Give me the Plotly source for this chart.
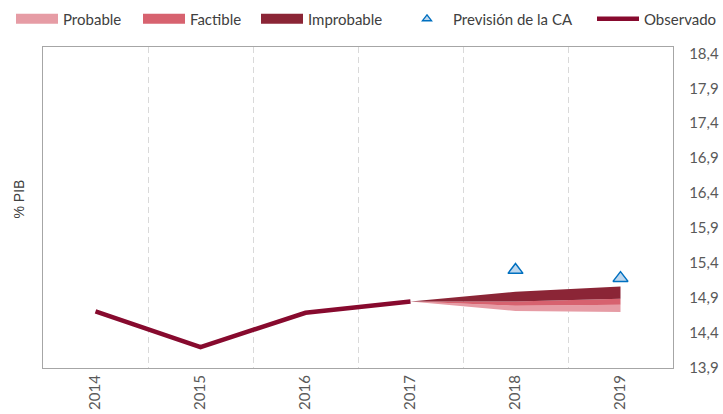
import plotly.graph_objects as go

# ---- data ----
years = [2014, 2015, 2016, 2017, 2018, 2019]
year_labels = ["2014", "2015", "2016", "2017", "2018", "2019"]
observado = [14.71, 14.20, 14.69, 14.85, None, None]

fan_years = [2017, 2018, 2019]
fan_bottom = [14.85, 14.715, 14.70]
probable_top = [14.85, 14.79, 14.805]
factible_top = [14.85, 14.85, 14.89]
improbable_top = [14.85, 14.99, 15.065]

prevision_years = [2018, 2019]
prevision_ca = [15.30, 15.185]

y_tickvals = [13.9, 14.4, 14.9, 15.4, 15.9, 16.4, 16.9, 17.4, 17.9, 18.4]
y_ticktext = ["13,9", "14,4", "14,9", "15,4", "15,9", "16,4", "16,9", "17,4", "17,9", "18,4"]

# ---- styles ----
C_PROB = "#E69CA5"
C_FACT = "#D7626F"
C_IMPR = "#8B2536"
C_OBS = "#870A2E"
FONT = "Lato"
W, H = 723, 414

fig = go.Figure()

fig.add_trace(go.Scatter(x=fan_years, y=fan_bottom, mode="lines",
                         line=dict(width=0, color=C_PROB), showlegend=False,
                         hoverinfo="skip"))
fig.add_trace(go.Scatter(x=fan_years, y=probable_top, mode="lines", name="Probable",
                         line=dict(width=0, color=C_PROB), fill="tonexty",
                         fillcolor=C_PROB, showlegend=False))
fig.add_trace(go.Scatter(x=fan_years, y=factible_top, mode="lines", name="Factible",
                         line=dict(width=0, color=C_FACT), fill="tonexty",
                         fillcolor=C_FACT, showlegend=False))
fig.add_trace(go.Scatter(x=fan_years, y=improbable_top, mode="lines", name="Improbable",
                         line=dict(width=0, color=C_IMPR), fill="tonexty",
                         fillcolor=C_IMPR, showlegend=False))
fig.add_trace(go.Scatter(x=prevision_years, y=prevision_ca, mode="markers",
                         name="Previsión de la CA", showlegend=False,
                         marker=dict(symbol="triangle-up", size=13, color="#BDD7EE",
                                     line=dict(color="#0070C0", width=1.5))))
fig.add_trace(go.Scatter(x=years, y=observado, mode="lines", name="Observado",
                         legend="legend5", line=dict(width=4.5, color=C_OBS)))

# legend keys
for nm, col, lg in [("Probable", C_PROB, "legend"), ("Factible", C_FACT, "legend2"),
                    ("Improbable", C_IMPR, "legend3")]:
    fig.add_trace(go.Scatter(x=[None], y=[None], mode="lines", name=nm, legend=lg,
                             line=dict(width=12, color=col), hoverinfo="skip"))
fig.add_trace(go.Scatter(x=[None], y=[None], mode="markers", name="Previsión de la CA",
                         legend="legend4", hoverinfo="skip",
                         marker=dict(symbol="triangle-up", size=8, color="#BDD7EE",
                                     line=dict(color="#0070C0", width=1.3))))


def leg(text_x):
    return dict(orientation="h", xref="container", yref="container",
                x=(text_x - 53) / W, y=1 - 19 / H, xanchor="left", yanchor="middle",
                font=dict(family=FONT, size=15, color="#404040"),
                bgcolor="rgba(0,0,0,0)", itemwidth=42, traceorder="normal")


fig.update_layout(
    width=W, height=H,
    margin=dict(l=43, r=50, t=47, b=46, autoexpand=False),
    paper_bgcolor="white", plot_bgcolor="white",
    font=dict(family=FONT, size=15, color="#595959"),
    showlegend=True,
    legend=leg(64), legend2=leg(191), legend3=leg(309),
    legend4=leg(454), legend5=leg(645),
    xaxis=dict(range=[2013.5, 2019.5], tickvals=years, ticktext=year_labels,
               tickangle=-90, showgrid=False, zeroline=False,
               showline=True, mirror=True, linecolor="#A6A6A6", linewidth=1.3,
               ticks="", tickfont=dict(family=FONT, size=15, color="#595959")),
    yaxis=dict(range=[13.9, 18.49], side="right", tickvals=y_tickvals,
               ticktext=y_ticktext, showgrid=False, zeroline=False,
               showline=True, mirror=True, linecolor="#A6A6A6", linewidth=1.3,
               ticks="", ticklabelstandoff=12,
               tickfont=dict(family=FONT, size=15, color="#595959")),
    annotations=[dict(text="% PIB", x=-0.038, xref="paper", y=0.525, yref="paper",
                      xanchor="center", yanchor="middle", showarrow=False,
                      textangle=-90,
                      font=dict(family="Liberation Sans", size=14, color="#404040"))],
)
fig.update_xaxes(minor=dict(tick0=2013.5, dtick=1, showgrid=True, gridcolor="#D9D9D9",
                            griddash="6px,4px", gridwidth=1, ticks=""))

fig.write_html("out.html", config={"displayModeBar": False},
               post_script="document.body.style.margin='0';")
